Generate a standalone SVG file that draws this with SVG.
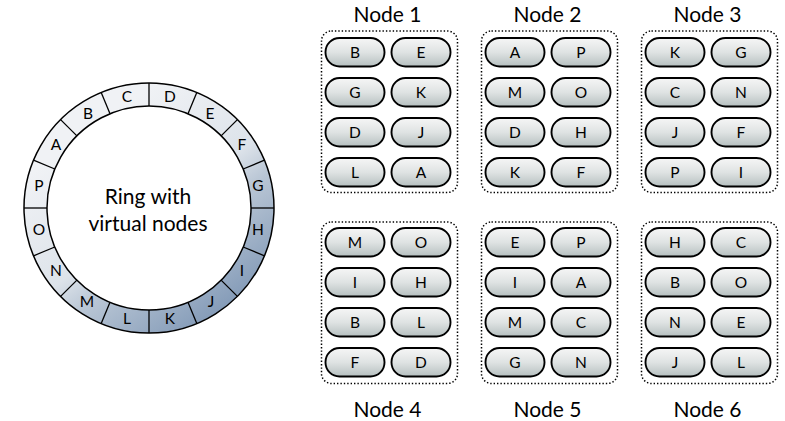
<svg xmlns="http://www.w3.org/2000/svg" width="785" height="421" viewBox="0 0 785 421">
<style>
.t{font-family:Lato,"Open Sans","DejaVu Sans",sans-serif;fill:#000;text-anchor:middle}
.title{font-size:21px}
.lbl{font-size:15.5px}
.box{fill:none;stroke:#000;stroke-width:1.5;stroke-dasharray:1.4 2}
.pill{fill:url(#pg);stroke:#000;stroke-width:1.9}
.div{stroke:#000;stroke-width:1.3}
</style>
<defs>
<linearGradient id="pg" x1="0" y1="0" x2="0" y2="1">
<stop offset="0" stop-color="#f6f6f6"/>
<stop offset="0.5" stop-color="#dfe3e3"/>
<stop offset="1" stop-color="#b6c0c0"/>
</linearGradient>
<linearGradient id="rg" x1="0.25" y1="0.2" x2="0.8" y2="0.95">
<stop offset="0" stop-color="#f0f2f5"/>
<stop offset="0.45" stop-color="#dde3ea"/>
<stop offset="0.6" stop-color="#b9c6d5"/>
<stop offset="1" stop-color="#7f97b5"/>
</linearGradient>
<rect id="p" x="0" y="0" width="59" height="28.5" rx="14"/>
</defs>

<g id="ring">
<path d="M149,83 A125,125 0 1 1 148.99,83 Z M149,106 A102,102 0 1 0 149.01,106 Z" fill="url(#rg)" fill-rule="evenodd" stroke="#000" stroke-width="1.5"/>
<g class="div">
<line x1="149" y1="106" x2="149" y2="83"/>
<line x1="188" y1="113.8" x2="196.8" y2="92.5"/>
<line x1="221.1" y1="135.9" x2="237.4" y2="119.6"/>
<line x1="243.2" y1="169" x2="264.5" y2="160.2"/>
<line x1="251" y1="208" x2="274" y2="208"/>
<line x1="243.2" y1="247" x2="264.5" y2="255.8"/>
<line x1="221.1" y1="280.1" x2="237.4" y2="296.4"/>
<line x1="188" y1="302.2" x2="196.8" y2="323.5"/>
<line x1="149" y1="310" x2="149" y2="333"/>
<line x1="110" y1="302.2" x2="101.2" y2="323.5"/>
<line x1="76.9" y1="280.1" x2="60.6" y2="296.4"/>
<line x1="54.8" y1="247" x2="33.5" y2="255.8"/>
<line x1="47" y1="208" x2="24" y2="208"/>
<line x1="54.8" y1="169" x2="33.5" y2="160.2"/>
<line x1="76.9" y1="135.9" x2="60.6" y2="119.6"/>
<line x1="110" y1="113.8" x2="101.2" y2="92.5"/>
</g>
<g class="t lbl">
<text x="170" y="102">D</text>
<text x="210" y="119">E</text>
<text x="242" y="150">F</text>
<text x="258" y="191">G</text>
<text x="258" y="235">H</text>
<text x="242" y="276">I</text>
<text x="211" y="307">J</text>
<text x="170" y="324">K</text>
<text x="127" y="324">L</text>
<text x="87" y="307">M</text>
<text x="56" y="276">N</text>
<text x="39" y="235">O</text>
<text x="39" y="191">P</text>
<text x="56" y="150">A</text>
<text x="88" y="119">B</text>
<text x="127" y="102">C</text>
</g>
<text class="t title" x="148" y="204">Ring with</text>
<text class="t title" x="148" y="231">virtual nodes</text>
</g>

<g id="node1" transform="translate(321.5,31)">
<rect class="box" x="0" y="0" width="136" height="161.5" rx="10"/>
<text class="t title" x="66" y="-9">Node 1</text>
<use href="#p" class="pill" x="4" y="7"/><use href="#p" class="pill" x="70" y="7"/>
<use href="#p" class="pill" x="4" y="47"/><use href="#p" class="pill" x="70" y="47"/>
<use href="#p" class="pill" x="4" y="87"/><use href="#p" class="pill" x="70" y="87"/>
<use href="#p" class="pill" x="4" y="127"/><use href="#p" class="pill" x="70" y="127"/>
<g class="t lbl">
<text x="33.5" y="27">B</text><text x="99.5" y="27">E</text>
<text x="33.5" y="67">G</text><text x="99.5" y="67">K</text>
<text x="33.5" y="107">D</text><text x="99.5" y="107">J</text>
<text x="33.5" y="147">L</text><text x="99.5" y="147">A</text>
</g>
</g>

<g id="node2" transform="translate(481.5,31)">
<rect class="box" x="0" y="0" width="136" height="161.5" rx="10"/>
<text class="t title" x="66" y="-9">Node 2</text>
<use href="#p" class="pill" x="4" y="7"/><use href="#p" class="pill" x="70" y="7"/>
<use href="#p" class="pill" x="4" y="47"/><use href="#p" class="pill" x="70" y="47"/>
<use href="#p" class="pill" x="4" y="87"/><use href="#p" class="pill" x="70" y="87"/>
<use href="#p" class="pill" x="4" y="127"/><use href="#p" class="pill" x="70" y="127"/>
<g class="t lbl">
<text x="33.5" y="27">A</text><text x="99.5" y="27">P</text>
<text x="33.5" y="67">M</text><text x="99.5" y="67">O</text>
<text x="33.5" y="107">D</text><text x="99.5" y="107">H</text>
<text x="33.5" y="147">K</text><text x="99.5" y="147">F</text>
</g>
</g>

<g id="node3" transform="translate(641.5,31)">
<rect class="box" x="0" y="0" width="136" height="161.5" rx="10"/>
<text class="t title" x="66" y="-9">Node 3</text>
<use href="#p" class="pill" x="4" y="7"/><use href="#p" class="pill" x="70" y="7"/>
<use href="#p" class="pill" x="4" y="47"/><use href="#p" class="pill" x="70" y="47"/>
<use href="#p" class="pill" x="4" y="87"/><use href="#p" class="pill" x="70" y="87"/>
<use href="#p" class="pill" x="4" y="127"/><use href="#p" class="pill" x="70" y="127"/>
<g class="t lbl">
<text x="33.5" y="27">K</text><text x="99.5" y="27">G</text>
<text x="33.5" y="67">C</text><text x="99.5" y="67">N</text>
<text x="33.5" y="107">J</text><text x="99.5" y="107">F</text>
<text x="33.5" y="147">P</text><text x="99.5" y="147">I</text>
</g>
</g>

<g id="node4" transform="translate(321.5,222)">
<rect class="box" x="0" y="0" width="136" height="161.5" rx="10"/>
<text class="t title" x="66" y="195">Node 4</text>
<use href="#p" class="pill" x="4" y="6"/><use href="#p" class="pill" x="70" y="6"/>
<use href="#p" class="pill" x="4" y="46"/><use href="#p" class="pill" x="70" y="46"/>
<use href="#p" class="pill" x="4" y="86"/><use href="#p" class="pill" x="70" y="86"/>
<use href="#p" class="pill" x="4" y="126"/><use href="#p" class="pill" x="70" y="126"/>
<g class="t lbl">
<text x="33.5" y="26">M</text><text x="99.5" y="26">O</text>
<text x="33.5" y="66">I</text><text x="99.5" y="66">H</text>
<text x="33.5" y="106">B</text><text x="99.5" y="106">L</text>
<text x="33.5" y="146">F</text><text x="99.5" y="146">D</text>
</g>
</g>

<g id="node5" transform="translate(481.5,222)">
<rect class="box" x="0" y="0" width="136" height="161.5" rx="10"/>
<text class="t title" x="66" y="195">Node 5</text>
<use href="#p" class="pill" x="4" y="6"/><use href="#p" class="pill" x="70" y="6"/>
<use href="#p" class="pill" x="4" y="46"/><use href="#p" class="pill" x="70" y="46"/>
<use href="#p" class="pill" x="4" y="86"/><use href="#p" class="pill" x="70" y="86"/>
<use href="#p" class="pill" x="4" y="126"/><use href="#p" class="pill" x="70" y="126"/>
<g class="t lbl">
<text x="33.5" y="26">E</text><text x="99.5" y="26">P</text>
<text x="33.5" y="66">I</text><text x="99.5" y="66">A</text>
<text x="33.5" y="106">M</text><text x="99.5" y="106">C</text>
<text x="33.5" y="146">G</text><text x="99.5" y="146">N</text>
</g>
</g>

<g id="node6" transform="translate(641.5,222)">
<rect class="box" x="0" y="0" width="136" height="161.5" rx="10"/>
<text class="t title" x="66" y="195">Node 6</text>
<use href="#p" class="pill" x="4" y="6"/><use href="#p" class="pill" x="70" y="6"/>
<use href="#p" class="pill" x="4" y="46"/><use href="#p" class="pill" x="70" y="46"/>
<use href="#p" class="pill" x="4" y="86"/><use href="#p" class="pill" x="70" y="86"/>
<use href="#p" class="pill" x="4" y="126"/><use href="#p" class="pill" x="70" y="126"/>
<g class="t lbl">
<text x="33.5" y="26">H</text><text x="99.5" y="26">C</text>
<text x="33.5" y="66">B</text><text x="99.5" y="66">O</text>
<text x="33.5" y="106">N</text><text x="99.5" y="106">E</text>
<text x="33.5" y="146">J</text><text x="99.5" y="146">L</text>
</g>
</g>

<g id="connectors"></g>
</svg>
